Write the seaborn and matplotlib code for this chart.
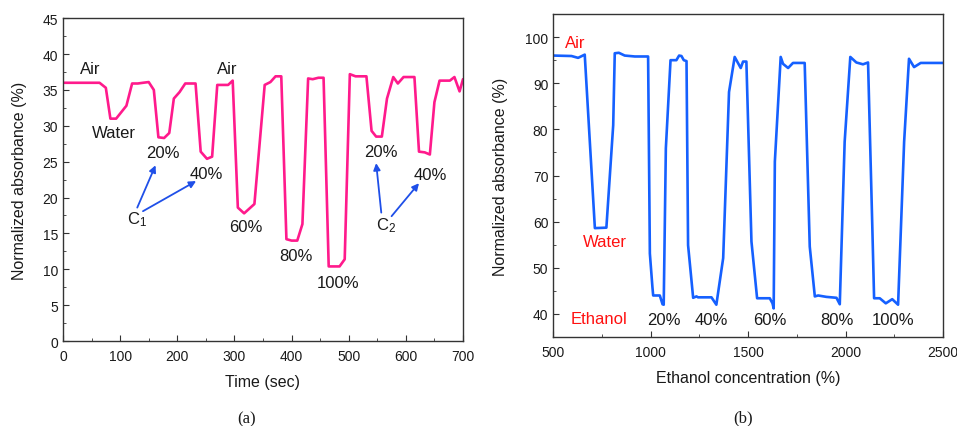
import matplotlib
matplotlib.use("Agg")
import matplotlib.pyplot as plt
import numpy as np
import pandas as pd
import seaborn as sns

# ==============================================
# Data
# ==============================================
# (a) absorbance vs time
time_sec = [0, 64, 75, 83, 93, 111, 121, 131, 140, 150, 159, 167, 177, 186, 194, 204,
            214, 232, 241, 252, 261, 270, 289, 297, 306, 317, 335, 353, 363, 372, 382,
            391, 400, 410, 419, 429, 437, 447, 456, 465, 484, 493, 502, 512, 531, 540,
            548, 558, 567, 578, 586, 596, 615, 623, 633, 642, 650, 659, 677, 685, 694, 700]
absorb_a = [36.0, 36.0, 35.3, 31.0, 31.0, 32.8, 35.9, 35.9, 36.0, 36.1, 35.0, 28.4, 28.3,
            29.0, 33.8, 34.7, 35.9, 35.9, 26.4, 25.4, 25.7, 35.7, 35.7, 36.3, 18.6, 17.8,
            19.1, 35.7, 36.1, 36.9, 36.9, 14.2, 14.0, 14.0, 16.3, 36.6, 36.5, 36.7, 36.7,
            10.4, 10.4, 11.4, 37.2, 36.9, 36.9, 29.3, 28.5, 28.5, 33.8, 36.8, 35.9, 36.8,
            36.8, 26.4, 26.3, 26.0, 33.3, 36.3, 36.3, 36.8, 34.8, 36.5]

# (b) absorbance vs ethanol concentration axis
conc = [500, 594, 628, 662, 714, 773, 808, 816, 837, 867, 919, 987, 996, 1009, 1013,
        1047, 1061, 1067, 1078, 1102, 1132, 1146, 1158, 1170, 1184, 1192, 1218, 1235,
        1243, 1312, 1337, 1372, 1402, 1431, 1462, 1474, 1491, 1517, 1546, 1611, 1625,
        1631, 1637, 1667, 1679, 1705, 1730, 1790, 1816, 1842, 1859, 1901, 1953, 1970,
        1995, 2024, 2055, 2089, 2115, 2137, 2146, 2175, 2206, 2239, 2269, 2300, 2325,
        2351, 2385, 2500]
absorb_b = [96.0, 95.9, 95.5, 96.2, 58.6, 58.7, 80.9, 96.5, 96.6, 96.0, 95.8, 95.8, 53.1,
            45.9, 44.0, 44.0, 42.1, 42.0, 75.9, 95.0, 95.0, 96.0, 95.9, 95.0, 94.8, 54.9,
            43.5, 43.8, 43.6, 43.6, 42.0, 52.1, 88.1, 95.7, 93.3, 94.7, 94.7, 55.7, 43.4,
            43.4, 42.3, 41.2, 73.0, 95.7, 94.2, 93.3, 94.4, 94.4, 54.6, 43.8, 44.0, 43.7,
            43.5, 42.1, 77.3, 95.7, 94.5, 94.1, 94.5, 58.6, 43.4, 43.4, 42.3, 43.2, 42.0,
            77.3, 95.3, 93.5, 94.4, 94.4]

# annotations: (text, x, y)
labels_a = [("Air", 48, 38.0), ("Water", 90, 29.0), ("20%", 175, 26.3), ("40%", 251, 23.3),
            ("Air", 287, 38.0), ("60%", 320, 15.9), ("80%", 407, 11.9), ("100%", 481, 8.1),
            ("20%", 556, 26.4), ("40%", 642, 23.2)]
# arrows: (start x, start y, end x, end y)
arrows_a = [(130, 18.6, 162, 24.5), (140, 18.1, 233, 22.3),
            (557, 17.9, 548, 24.8), (575, 17.4, 623, 22.0)]
labels_b_red = [("Air", 614, 98.9), ("Water", 765, 55.7), ("Ethanol", 736, 39.1)]
labels_b = [("20%", 1069, 38.7), ("40%", 1313, 38.7), ("60%", 1611, 38.7),
            ("80%", 1954, 38.7), ("100%", 2245, 38.7)]

df_a = pd.DataFrame({"t": time_sec, "a": absorb_a})
df_b = pd.DataFrame({"c": conc, "a": absorb_b})

# ==============================================
# Plot
# ==============================================
sns.set_style("ticks")
plt.rcParams["font.family"] = ["Liberation Sans", "DejaVu Sans"]
plt.rcParams["mathtext.fontset"] = "custom"
plt.rcParams["mathtext.rm"] = "Liberation Sans"
plt.rcParams["mathtext.it"] = "Liberation Sans"

fig = plt.figure(figsize=(9.57, 4.27), dpi=100)
ax1 = fig.add_axes([0.0658, 0.199, 0.418, 0.756])
ax2 = fig.add_axes([0.578, 0.2084, 0.4075, 0.7564])

pink = "#FF1A8C"
blue = "#1560FF"
arrow_blue = "#1F4FE8"
txt = "#1a1a1a"

sns.lineplot(data=df_a, x="t", y="a", ax=ax1, color=pink, lw=1.9, sort=False)
sns.lineplot(data=df_b, x="c", y="a", ax=ax2, color=blue, lw=1.9, sort=False)

ax1.set_xlim(0, 700)
ax1.set_ylim(0, 45)
ax1.set_xticks(np.arange(0, 701, 100))
ax1.set_xticks(np.arange(0, 701, 50), minor=True)
ax1.set_yticks(np.arange(0, 46, 5))
ax1.set_yticks(np.arange(0, 46, 2.5), minor=True)
ax1.set_xlabel("Time (sec)", fontsize=11.5, color=txt, labelpad=8)
ax1.set_ylabel("Normalized absorbance (%)", fontsize=11.5, color=txt, labelpad=11)

ax2.set_xlim(500, 2500)
ax2.set_ylim(35, 105)
ax2.set_xticks(np.arange(500, 2501, 500))
ax2.set_xticks(np.arange(500, 2501, 250), minor=True)
ax2.set_yticks(np.arange(40, 101, 10))
ax2.set_yticks(np.arange(35, 105, 5), minor=True)
ax2.set_xlabel("Ethanol concentration (%)", fontsize=11.5, color=txt, labelpad=8)
ax2.set_ylabel("Normalized absorbance (%)", fontsize=11.5, color=txt, labelpad=12)

for ax in (ax1, ax2):
    for s in ax.spines.values():
        s.set_visible(True)
        s.set_color("#333333")
        s.set_linewidth(1.0)
    ax.tick_params(which="both", direction="in", colors="#333333", labelcolor=txt,
                   labelsize=10, top=False, right=False)
    ax.tick_params(which="major", length=4)
    ax.tick_params(which="minor", length=2.5)
    ax.tick_params(axis="x", which="major", pad=6)

for s, x, y in labels_a:
    ax1.text(x, y, s, ha="center", va="center", fontsize=12, color=txt)
ax1.text(130, 17.0, "C$_1$", ha="center", va="center", fontsize=12, color=txt)
ax1.text(566, 16.2, "C$_2$", ha="center", va="center", fontsize=12, color=txt)
for x0, y0, x1, y1 in arrows_a:
    ax1.annotate("", xy=(x1, y1), xytext=(x0, y0),
                 arrowprops=dict(arrowstyle="-|>", color=arrow_blue, lw=1.3,
                                 mutation_scale=10, shrinkA=0, shrinkB=0))

for s, x, y in labels_b_red:
    ax2.text(x, y, s, ha="center", va="center", fontsize=12, color="#FF1010")
for s, x, y in labels_b:
    ax2.text(x, y, s, ha="center", va="center", fontsize=12, color=txt)

fig.text(0.258, 0.018, "(a)", ha="center", va="center", fontsize=12,
         family="Liberation Serif", color=txt)
fig.text(0.776, 0.020, "(b)", ha="center", va="center", fontsize=12,
         family="Liberation Serif", color=txt)

fig.savefig("out.png", dpi=100)
